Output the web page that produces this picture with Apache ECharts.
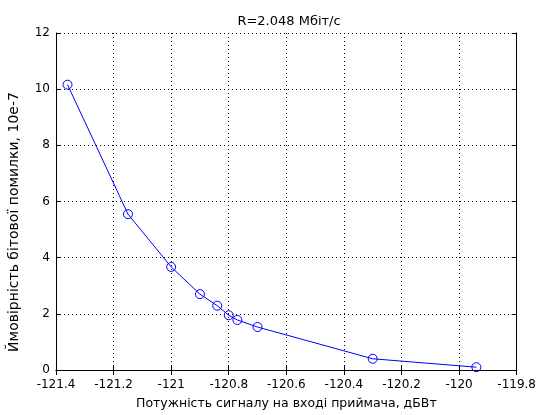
<!DOCTYPE html>
<html><head><meta charset="utf-8">
<script src="https://cdn.jsdelivr.net/npm/echarts@6/dist/echarts.min.js"></script>
<style>html,body{margin:0;padding:0;background:#fff}#c{width:539px;height:415px}</style>
</head><body><div id="c"></div>
<script>
const titleText = 'R=2.048 Мбіт/с';
const xLabel = 'Потужність сигналу на вході приймача, дБВт';
const yLabel = 'Ймовірність бітової помилки, 10е-7';
const xValues = [-121.36, -121.15, -121.0, -120.9, -120.84, -120.8, -120.77, -120.70, -120.30, -119.94];
const yValues = [10.16, 5.55, 3.67, 2.70, 2.29, 1.95, 1.78, 1.53, 0.40, 0.10];
const xTickLabels = ['-121.4','-121.2','-121','-120.8','-120.6','-120.4','-120.2','-120','-119.8'];

const font = 'DejaVu Sans, sans-serif';
const chart = echarts.init(document.getElementById('c'));
const dotted = {show:true, lineStyle:{color:'#000', type:[1,3], width:1}};
const axLine = {show:true, lineStyle:{color:'#000', width:1}};
const tick = {show:true, inside:true, length:5, lineStyle:{color:'#000'}};
chart.setOption({
  animation:false,
  backgroundColor:'#fff',
  title:{text:titleText, left:284, top:10, textAlign:'center',
    textStyle:{fontFamily:font, fontSize:13, fontWeight:'normal', color:'#000'}},
  grid:{left:56, right:19, top:33, bottom:40, containLabel:false},
  graphic:[{
    type:'text', x:14, y:222, rotation:Math.PI/2,
    style:{text:yLabel, fill:'#000', font:'14px DejaVu Sans, sans-serif', align:'center', verticalAlign:'middle'}
  }],
  xAxis:[{
    type:'value', min:-121.4, max:-119.8, interval:0.2, position:'bottom',
    axisLine:axLine, axisTick:tick, splitLine:dotted,
    axisLabel:{color:'#000', fontFamily:font, fontSize:12, margin:9,
      formatter:(v)=>{const i=Math.round((v+121.4)/0.2);return xTickLabels[i]||'';}},
    name:xLabel, nameLocation:'middle', nameGap:27,
    nameTextStyle:{color:'#000', fontFamily:font, fontSize:12.5}
  },{
    type:'value', min:-121.4, max:-119.8, interval:0.2, position:'top',
    axisLine:axLine, axisTick:tick, splitLine:{show:false}, axisLabel:{show:false}
  }],
  yAxis:[{
    type:'value', min:0, max:12, interval:2, position:'left',
    axisLine:axLine, axisTick:tick, splitLine:dotted,
    axisLabel:{color:'#000', fontFamily:font, fontSize:12, margin:6}
  },{
    type:'value', min:0, max:12, interval:2, position:'right',
    axisLine:axLine, axisTick:tick, splitLine:{show:false}, axisLabel:{show:false}
  }],
  series:[{
    type:'line', data:xValues.map((x,i)=>[x,yValues[i]]),
    symbol:'circle', symbolSize:9, showAllSymbol:true,
    lineStyle:{color:'#0000ff', width:1},
    itemStyle:{color:'rgba(0,0,0,0)', borderColor:'#0000ff', borderWidth:1}
  }]
});
</script></body></html>
